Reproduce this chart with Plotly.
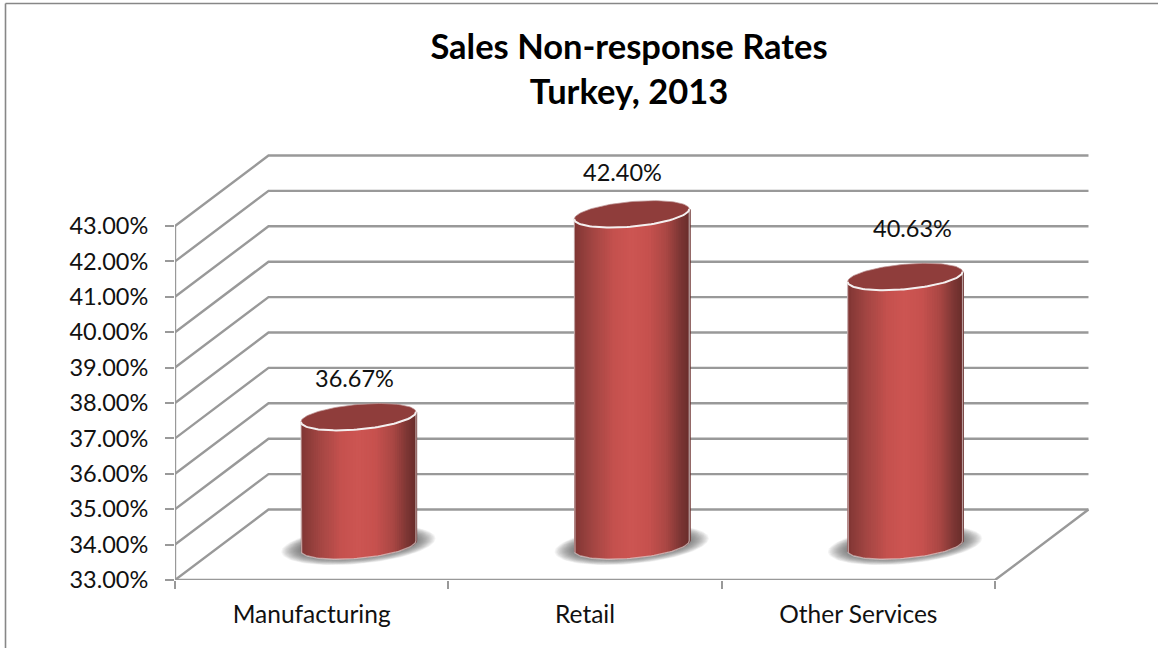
import numpy as np
import plotly.graph_objects as go

# Chart values
categories = ["Manufacturing", "Retail", "Other Services"]
rates = [36.67, 42.40, 40.63]
rate_labels = ["36.67%", "42.40%", "40.63%"]
tick_values = list(range(33, 44))
tick_labels = [f"{v}.00%" for v in tick_values]
title_lines = ["Sales Non-response Rates", "Turkey, 2013"]

# Hand-placed data label nudges, in pixels
label_shift_x = [-4, -9, 7]
label_shift_y = [38, 41, 48]

# Canvas and scale
WIDTH, HEIGHT = 1158, 649
M_L, M_R, M_T, M_B = 175, 60, 150, 69
PX_PER_CAT = 273.33
PX_PER_PCT = 35.4
x_range = [-0.5, -0.5 + (WIDTH - M_L - M_R) / PX_PER_CAT]
y_range = [33, 33 + (HEIGHT - M_T - M_B) / PX_PER_PCT]

# Oblique depth of the 3-D box
DEPTH_X = 93.5 / PX_PER_CAT
DEPTH_Y = 70.5 / PX_PER_PCT
X0, X1 = -0.5, 2.5

# Cylinder proportions
RADIUS_X = 57.5 / PX_PER_CAT
RADIUS_Y = 12.5 / PX_PER_PCT
TILT_Y = 5.0 / PX_PER_PCT
MID_X = 0.5 * DEPTH_X
MID_Y = 34.2 / PX_PER_PCT

GRID = "#999999"
FONT_FAMILY = "Lato, Carlito, sans-serif"
AXIS_FONT = dict(family=FONT_FAMILY, size=23.5, color="#111111")
CATEGORY_FONT = dict(family=FONT_FAMILY, size=24.5, color="#111111")


def lerp_color(stops, u):
    pos = [s[0] for s in stops]
    rgb = [np.interp(u, pos, [s[1][i] for s in stops]) for i in range(3)]
    return "rgb({:.0f},{:.0f},{:.0f})".format(*rgb)


BODY_STOPS = [
    (0.00, (128, 54, 52)),
    (0.17, (164, 70, 67)),
    (0.35, (197, 81, 78)),
    (0.50, (205, 85, 82)),
    (0.65, (198, 81, 78)),
    (0.80, (170, 71, 68)),
    (0.92, (125, 54, 52)),
    (1.00, (105, 45, 43)),
]


def rim(cx, cy, t, scale=1.0, scale_y=None):
    """Point on a tilted ellipse centred at (cx, cy) for parameter t."""
    px = np.cos(t)
    sy = scale if scale_y is None else scale_y
    return (
        cx + scale * RADIUS_X * px,
        cy + scale * TILT_Y * px - sy * RADIUS_Y * np.sin(t),
    )


fig = go.Figure()


def line_trace(xs, ys, color=GRID, width=2.4):
    fig.add_trace(
        go.Scatter(
            x=xs, y=ys, mode="lines", line=dict(color=color, width=width),
            hoverinfo="skip", showlegend=False,
        )
    )


# Gridlines across side wall and back wall
for v in tick_values:
    line_trace(
        [X0, X0 + DEPTH_X, X1 + DEPTH_X],
        [v, v + DEPTH_Y, v + DEPTH_Y],
    )

# Floor edges and the value axis spine
line_trace([X0, X1, X1 + DEPTH_X], [33, 33, 33 + DEPTH_Y])
line_trace([X0, X0], [33, 43])

for i, value in enumerate(rates):
    cx = i + MID_X
    base_y = 33 + MID_Y
    top_y = value + MID_Y - 0.03

    # Soft floor shadow built from stacked translucent ellipses
    t = np.linspace(0, 2 * np.pi, 90)
    for scale in np.linspace(1.34, 1.0, 18):
        sx, sy = rim(cx, base_y + 0.02, t, scale, scale_y=1.0 + (scale - 1.0) * 1.5)
        fig.add_trace(
            go.Scatter(
                x=sx, y=sy, mode="lines", fill="toself",
                fillcolor="rgba(95,95,95,0.065)", line=dict(width=0),
                hoverinfo="skip", showlegend=False,
            )
        )

    # Cylinder wall as a run of vertical shaded strips
    n_strips = 64
    edges = np.linspace(0, np.pi, n_strips + 1)[::-1]
    overlap = 1.2 / PX_PER_CAT
    for k in range(n_strips):
        x_a = cx + RADIUS_X * np.cos(edges[k])
        x_b = cx + RADIUS_X * np.cos(edges[k + 1])
        ts = np.linspace(edges[k], edges[k + 1], 4)
        bx, by = rim(cx, base_y, ts)
        tx, ty = rim(cx, top_y, ts)
        sx = np.concatenate([bx, [x_b + overlap, x_b + overlap], tx[::-1]])
        sy = np.concatenate([by, [by[-1], ty[-1]], ty[::-1]])
        u_geo = (0.5 * (x_a + x_b) - (cx - RADIUS_X)) / (2 * RADIUS_X)
        fig.add_trace(
            go.Scatter(
                x=sx, y=sy, mode="lines", fill="toself",
                fillcolor=lerp_color(BODY_STOPS, u_geo), line=dict(width=0),
                hoverinfo="skip", showlegend=False,
            )
        )

    # Pale outline down the sides and around the base
    ts = np.linspace(np.pi, 0, 60)
    bx, by = rim(cx, base_y, ts)
    sx_l, sy_l = rim(cx, top_y, np.pi)
    sx_r, sy_r = rim(cx, top_y, 0.0)
    line_trace(
        np.concatenate([[sx_l], bx, [sx_r]]),
        np.concatenate([[sy_l], by, [sy_r]]),
        color="rgba(225,215,215,0.65)", width=1.3,
    )

    # Top cap with its bright front rim
    t = np.linspace(0, 2 * np.pi, 120)
    tx, ty = rim(cx, top_y, t)
    fig.add_trace(
        go.Scatter(
            x=tx, y=ty, mode="lines", fill="toself", fillcolor="#8f3d3b",
            line=dict(width=1, color="rgba(190,150,150,0.7)"),
            hoverinfo="skip", showlegend=False,
        )
    )
    ts = np.linspace(np.pi, 0, 60)
    fx, fy = rim(cx, top_y, ts)
    line_trace(fx, fy, color="#f4efef", width=2)

# Data labels sit above each cap
annotations = [
    dict(
        x=i + MID_X, y=value + MID_Y, xref="x", yref="y", text=rate_labels[i],
        showarrow=False, xshift=label_shift_x[i], yshift=label_shift_y[i],
        font=AXIS_FONT,
    )
    for i, value in enumerate(rates)
]


def paper_x(px):
    return (px - M_L) / (WIDTH - M_L - M_R)


def paper_y(py):
    return 1 - (py - M_T) / (HEIGHT - M_T - M_B)


frame_line = dict(color="#878787", width=1.6)
shapes = [
    dict(type="line", xref="paper", yref="paper", x0=paper_x(5.5), x1=paper_x(WIDTH),
         y0=paper_y(3.5), y1=paper_y(3.5), line=frame_line),
    dict(type="line", xref="paper", yref="paper", x0=paper_x(5.5), x1=paper_x(5.5),
         y0=paper_y(3.5), y1=paper_y(648), line=frame_line),
]

fig.update_layout(
    width=WIDTH,
    height=HEIGHT,
    autosize=False,
    margin=dict(l=M_L, r=M_R, t=M_T, b=M_B, pad=0),
    paper_bgcolor="white",
    plot_bgcolor="white",
    showlegend=False,
    title=dict(
        text="<b>" + "<br>".join(title_lines) + "</b>",
        x=629 / WIDTH,
        xanchor="center",
        y=1 - 59 / HEIGHT,
        yanchor="top",
        font=dict(family=FONT_FAMILY, size=34.5, color="#000000"),
    ),
    xaxis=dict(
        range=x_range,
        tickmode="array",
        tickvals=[0, 1, 2],
        ticktext=categories,
        ticks="",
        showgrid=False,
        zeroline=False,
        showline=False,
        tickfont=CATEGORY_FONT,
        ticklabelstandoff=17,
    ),
    xaxis2=dict(
        range=x_range,
        overlaying="x",
        anchor="y",
        side="bottom",
        tickmode="array",
        tickvals=[-0.5, 0.5, 1.5, 2.5],
        ticktext=["", "", "", ""],
        ticks="outside",
        ticklen=8,
        tickwidth=2,
        tickcolor=GRID,
        showgrid=False,
        zeroline=False,
        showline=False,
    ),
    yaxis=dict(
        range=y_range,
        tickmode="array",
        tickvals=tick_values,
        ticktext=tick_labels,
        ticks="outside",
        ticklen=9,
        tickwidth=2,
        tickcolor=GRID,
        showgrid=False,
        zeroline=False,
        showline=False,
        tickfont=AXIS_FONT,
        ticklabelstandoff=12,
    ),
    annotations=annotations,
    shapes=shapes,
)

# A blank trace keeps the tick-only axis on the plot
fig.add_trace(go.Scatter(x=[None], y=[None], xaxis="x2", showlegend=False, hoverinfo="skip"))

fig.write_html("out.html")
